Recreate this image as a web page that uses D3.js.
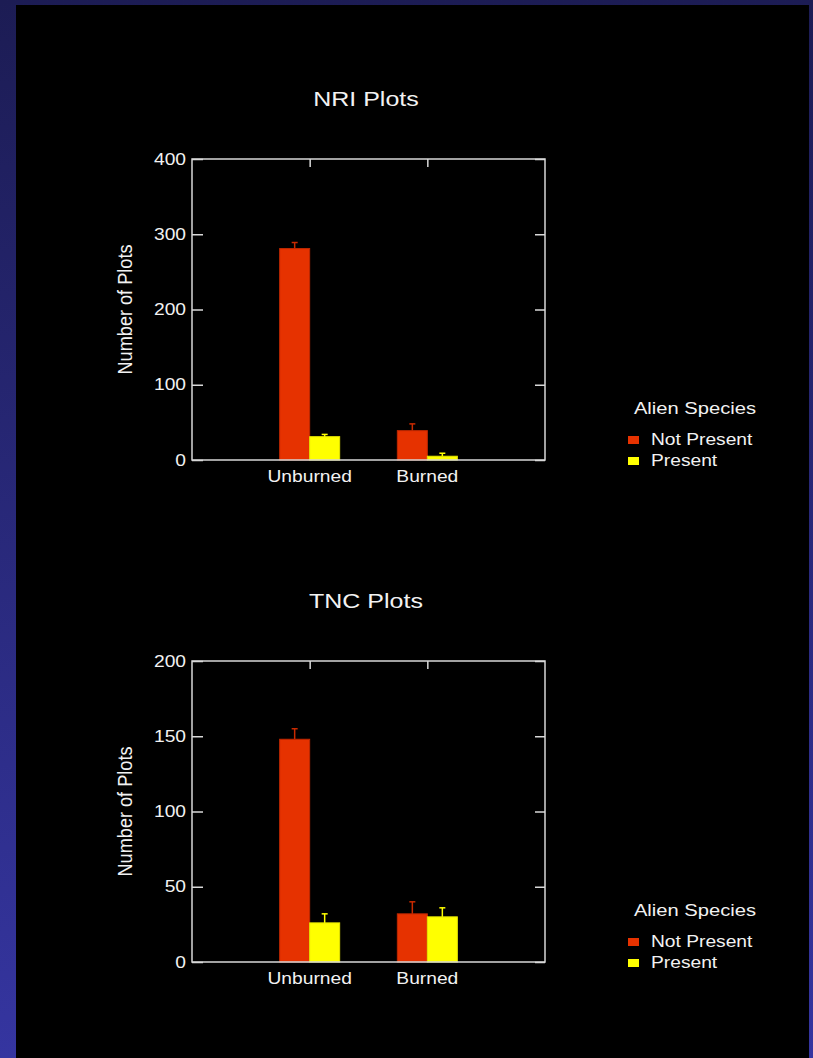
<!DOCTYPE html>
<html>
<head>
<meta charset="utf-8">
<script src="https://cdn.jsdelivr.net/npm/d3@7"></script>
<style>
  body { margin: 0; background: #000; }
  svg { display: block; }
  text { font-family: "Liberation Sans", Arial, sans-serif; fill: #f2f2f2; }
</style>
</head>
<body>
<svg id="chart"></svg>
<script>
// categories and series
const categories = ['Unburned', 'Burned'];
const series = ['Not Present', 'Present'];
const legendTitle = 'Alien Species';

// NRI plots
const nriTitle = 'NRI Plots';
const nriNotPresent = [281, 39];
const nriPresent = [31, 5];
const nriNotPresentErr = [8, 9];
const nriPresentErr = [3, 4];
const nriTicks = [0, 100, 200, 300, 400];

// TNC plots
const tncTitle = 'TNC Plots';
const tncNotPresent = [148, 32];
const tncPresent = [26, 30];
const tncNotPresentErr = [7, 8];
const tncPresentErr = [6, 6];
const tncTicks = [0, 50, 100, 150, 200];

const yLabel = 'Number of Plots';

const width = 813, height = 1058;
const colors = { 'Not Present': '#e63200', 'Present': '#ffff00' };
const edge = { 'Not Present': '#c02800', 'Present': '#e8e800' };
const frameColor = '#d8d8d8';
const stretch = 1.2; // text in the picture is wider than the font
const fontSize = '16px';

const svg = d3.select('#chart').attr('width', width).attr('height', height);

// background: blue gradient frame, black slide
const grad = svg.append('defs').append('linearGradient')
    .attr('id', 'bg').attr('x1', 0).attr('y1', 0).attr('x2', 0).attr('y2', 1);
grad.append('stop').attr('offset', 0).attr('stop-color', '#1c1c54');
grad.append('stop').attr('offset', 1).attr('stop-color', '#3535a0');
svg.append('rect').attr('width', width).attr('height', height).attr('fill', 'url(#bg)');
svg.append('rect').attr('x', 16).attr('y', 5).attr('width', 793).attr('height', height - 5).attr('fill', '#000');

// widen a text selection to match the picture
function widen(sel, k) {
    sel.each(function() {
        const w = this.getComputedTextLength();
        d3.select(this).attr('textLength', w * k).attr('lengthAdjust', 'spacingAndGlyphs');
    });
}

function drawPanel(cfg) {
    const top = cfg.top;
    const x0 = 192, x1 = 545;
    const plotH = 301;

    const x = d3.scalePoint().domain(categories).range([x0, x1]).padding(1);
    const xs = d3.scaleBand().domain(series).range([-30, 30]).padding(0);
    const y = d3.scaleLinear().domain(cfg.domain).range([top + plotH, top]);

    const g = svg.append('g');

    // title
    g.append('text')
        .attr('x', 366).attr('y', top - 53)
        .attr('text-anchor', 'middle')
        .style('font-size', '21px')
        .text(cfg.title)
        .call(widen, 1.19);

    // bars
    const rows = [];
    categories.forEach((c, i) => {
        rows.push({ cat: c, s: 'Not Present', v: cfg.notPresent[i], e: cfg.notPresentErr[i] });
        rows.push({ cat: c, s: 'Present', v: cfg.present[i], e: cfg.presentErr[i] });
    });

    g.selectAll('rect.bar')
        .data(rows)
        .join('rect')
        .attr('class', 'bar')
        .attr('x', d => x(d.cat) + xs(d.s))
        .attr('width', xs.bandwidth())
        .attr('y', d => y(d.v))
        .attr('height', d => y(0) - y(d.v))
        .attr('fill', d => colors[d.s])
        .attr('stroke', d => edge[d.s])
        .attr('stroke-width', 1);

    // error bars (upper only)
    const err = g.selectAll('g.err').data(rows).join('g').attr('class', 'err')
        .attr('stroke', d => d.s === 'Not Present' ? '#c82a00' : '#ffff00')
        .attr('stroke-width', 1.5);
    err.append('line')
        .attr('x1', d => x(d.cat) + xs(d.s) + xs.bandwidth() / 2)
        .attr('x2', d => x(d.cat) + xs(d.s) + xs.bandwidth() / 2)
        .attr('y1', d => y(d.v))
        .attr('y2', d => y(d.v + d.e));
    err.append('line')
        .attr('x1', d => x(d.cat) + xs(d.s) + xs.bandwidth() / 2 - 3)
        .attr('x2', d => x(d.cat) + xs(d.s) + xs.bandwidth() / 2 + 3)
        .attr('y1', d => y(d.v + d.e))
        .attr('y2', d => y(d.v + d.e));

    // frame
    g.append('rect')
        .attr('x', x0).attr('y', top)
        .attr('width', x1 - x0).attr('height', plotH)
        .attr('fill', 'none')
        .attr('stroke', frameColor)
        .attr('stroke-width', 1.5);

    // left axis with labels, ticks inside
    const left = g.append('g')
        .attr('transform', `translate(${x0},0)`)
        .call(d3.axisLeft(y).tickValues(cfg.ticks).tickSize(-11).tickPadding(6));
    left.select('.domain').remove();
    left.selectAll('line').attr('stroke', frameColor).attr('stroke-width', 1.5);
    left.selectAll('text')
        .attr('fill', '#f2f2f2')
        .style('font-size', fontSize)
        .style('font-family', '"Liberation Sans", Arial, sans-serif')
        .call(widen, stretch);

    // right axis ticks
    const right = g.append('g')
        .attr('transform', `translate(${x1},0)`)
        .call(d3.axisRight(y).tickValues(cfg.ticks).tickSize(-10).tickFormat(''));
    right.select('.domain').remove();
    right.selectAll('line').attr('stroke', frameColor).attr('stroke-width', 1.5);

    // top axis ticks at categories
    const topAxis = g.append('g')
        .attr('transform', `translate(0,${top})`)
        .call(d3.axisTop(x).tickSize(-8).tickFormat(''));
    topAxis.select('.domain').remove();
    topAxis.selectAll('line').attr('stroke', frameColor).attr('stroke-width', 1.5);

    // category labels
    g.selectAll('text.cat')
        .data(categories)
        .join('text')
        .attr('class', 'cat')
        .attr('x', d => x(d))
        .attr('y', top + plotH + 22)
        .attr('text-anchor', 'middle')
        .style('font-size', fontSize)
        .text(d => d)
        .call(widen, stretch);

    // y axis label
    g.append('text')
        .attr('transform', `translate(132,${top + plotH / 2}) scale(1.25,1) rotate(-90)`)
        .attr('text-anchor', 'middle')
        .attr('textLength', 130)
        .attr('lengthAdjust', 'spacingAndGlyphs')
        .style('font-size', '15.5px')
        .text(yLabel);

    // legend
    const lg = g.append('g').attr('transform', `translate(0,${top - 159})`);
    lg.append('text')
        .attr('x', 695).attr('y', 414)
        .attr('text-anchor', 'middle')
        .style('font-size', fontSize)
        .text(legendTitle)
        .call(widen, 1.26);
    const items = lg.selectAll('g.item').data(series).join('g')
        .attr('class', 'item')
        .attr('transform', (d, i) => `translate(0,${i * 21})`);
    items.append('rect')
        .attr('x', 628).attr('y', 436)
        .attr('width', 11).attr('height', 8)
        .attr('fill', d => colors[d]);
    items.append('text')
        .attr('x', 651).attr('y', 445)
        .style('font-size', fontSize)
        .text(d => d)
        .call(widen, stretch);
}

drawPanel({
    top: 159, title: nriTitle, domain: [0, 400], ticks: nriTicks,
    notPresent: nriNotPresent, present: nriPresent,
    notPresentErr: nriNotPresentErr, presentErr: nriPresentErr
});

drawPanel({
    top: 661, title: tncTitle, domain: [0, 200], ticks: tncTicks,
    notPresent: tncNotPresent, present: tncPresent,
    notPresentErr: tncNotPresentErr, presentErr: tncPresentErr
});
</script>
</body>
</html>
